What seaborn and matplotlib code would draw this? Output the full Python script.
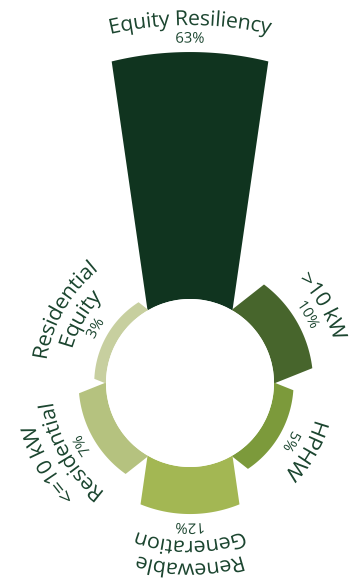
import numpy as np
import matplotlib
matplotlib.use("Agg")
import matplotlib.pyplot as plt
import seaborn as sns
from matplotlib.patheffects import AbstractPathEffect
from matplotlib.path import Path
from matplotlib.transforms import IdentityTransform

# Program share by category, clockwise from the top
categories = ["Equity Resiliency", ">10 kW", "HPHW", "Renewable\nGeneration",
              "<=10 kW\nResidential", "Residential\nEquity"]
shares = [63, 10, 5, 12, 7, 3]
bar_colors = ["#10341f", "#47652c", "#7c9a3b", "#a3b753", "#b5c27f", "#c7cf9f"]
TEXT_COLOR = "#1c4630"

sns.set_theme(style="white")
plt.rcParams["font.family"] = ["Open Sans", "DejaVu Sans"]

W, H, DPI = 351, 584, 100
PX = 3.92                 # pixels per percentage point on the radial axis
HOLE = 84 / PX            # radius of the empty centre, in axis units
APEX = 222 / PX           # bars fan out from a point behind the centre
HALF = np.deg2rad(8.2)    # half opening angle of each bar about that point
RMAX = 72
CX, CY = 190, 383         # centre of the ring, pixels from top-left


class ArcText(AbstractPathEffect):
    """Bend each rendered text line along a circle around the polar centre."""

    def __init__(self, ax, stretch=1.0):
        super().__init__()
        self.ax = ax
        self.stretch = stretch

    def draw_path(self, renderer, gc, tpath, affine, rgbFace=None):
        c = self.ax.transAxes.transform((0.5, 0.5))
        verts = affine.transform(tpath.vertices)
        ext = tpath.get_extents()
        xm = 0.5 * (ext.x0 + ext.x1)
        o = affine.transform(np.array([[xm, 0.0], [xm + 1.0, 0.0]]))
        m = o[0]
        eu = o[1] - o[0]
        eu = eu / np.hypot(*eu)
        ev = np.array([-eu[1], eu[0]])
        rel = verts - m
        u = rel @ eu
        v = rel @ ev
        rm = np.hypot(*(m - c))
        phim = np.arctan2(m[1] - c[1], m[0] - c[0])
        phi = phim - self.stretch * u / rm
        rho = rm + v
        new = np.column_stack([c[0] + rho * np.cos(phi), c[1] + rho * np.sin(phi)])
        renderer.draw_path(gc, Path(new, tpath.codes), IdentityTransform(), rgbFace)


def bar_outline(beta, value, n=60):
    """Outline of one bar in (theta, r) for a north-up, clockwise polar axis."""
    psi = np.pi / 2 - beta
    apex = -APEX * np.array([np.cos(psi), np.sin(psi)])
    rin, rout = HOLE, HOLE + value

    def side(sign, rho):
        d = np.array([np.cos(psi + sign * HALF), np.sin(psi + sign * HALF)])
        t = APEX * np.cos(HALF) + np.sqrt(rho ** 2 - (APEX * np.sin(HALF)) ** 2)
        p = apex[:, None] + d[:, None] * t
        return np.arctan2(p[1], p[0])

    def arc(a0, a1):
        da = (a1 - a0 + np.pi) % (2 * np.pi) - np.pi
        return a0 + da * np.linspace(0, 1, n)

    rho = np.linspace(rin, rout, n)
    a_minus = side(-1, rho)
    a_plus = side(+1, rho)
    phi = np.concatenate([a_minus, arc(a_minus[-1], a_plus[-1]),
                          a_plus[::-1], arc(a_plus[0], a_minus[0])])
    rr = np.concatenate([rho, np.full(n, rout), rho[::-1], np.full(n, rin)])
    phi = np.unwrap(phi)
    return np.pi / 2 - phi, rr - HOLE


fig = plt.figure(figsize=(W / DPI, H / DPI), dpi=DPI)
fig.patch.set_facecolor("white")
R = (RMAX + HOLE) * PX
ax = fig.add_axes([(CX - R) / W, (H - CY - R) / H, 2 * R / W, 2 * R / H],
                  projection="polar")
ax.set_theta_zero_location("N")
ax.set_theta_direction(-1)
ax.set_rorigin(-HOLE)
ax.set_ylim(0, RMAX)
ax.grid(False)
ax.set_xticks([])
ax.set_yticks([])
ax.set_axis_off()

palette = sns.color_palette(bar_colors)
step = 2 * np.pi / len(shares)
for i, (cat, val) in enumerate(zip(categories, shares)):
    beta = i * step
    theta, r = bar_outline(beta, val)
    ax.fill(theta, r, color=palette[i], lw=0)

    rot = -np.degrees(beta)
    ax.text(beta, val + 13 / PX, f"{val}%", rotation=rot, rotation_mode="anchor",
            ha="center", va="center", fontsize=10.5, color=TEXT_COLOR,
            path_effects=[ArcText(ax)])
    ax.text(beta, val + 22 / PX, cat, rotation=rot, rotation_mode="anchor",
            ha="center", va="bottom", fontsize=15, linespacing=1.1,
            color=TEXT_COLOR, path_effects=[ArcText(ax)])

fig.savefig("out.png", dpi=DPI, facecolor="white")
